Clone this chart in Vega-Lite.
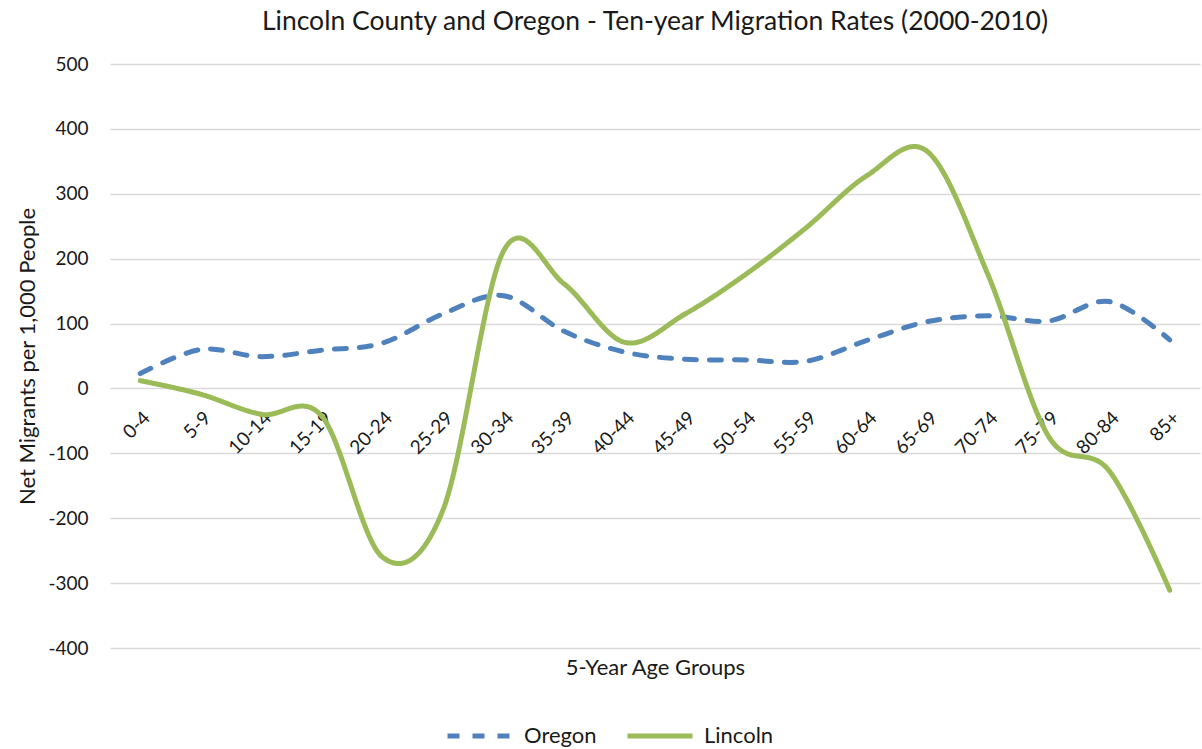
{
  "$schema": "https://vega.github.io/schema/vega-lite/v6.json",
  "autosize": {"type": "none"},
  "width": 1090,
  "height": 584,
  "padding": {"left": 110, "top": 64, "right": 2, "bottom": 101},
  "background": "white",
  "title": {
    "text": "Lincoln County and Oregon - Ten-year Migration Rates (2000-2010)",
    "frame": "group",
    "anchor": "middle",
    "font": "Lato",
    "fontSize": 26.5,
    "fontWeight": "normal",
    "color": "#1a1a1a",
    "offset": 20
  },
  "data": {
    "values": [
      {"age": "0-4", "series": "Oregon", "rate": 23},
      {"age": "5-9", "series": "Oregon", "rate": 60},
      {"age": "10-14", "series": "Oregon", "rate": 49},
      {"age": "15-19", "series": "Oregon", "rate": 59},
      {"age": "20-24", "series": "Oregon", "rate": 70},
      {"age": "25-29", "series": "Oregon", "rate": 115},
      {"age": "30-34", "series": "Oregon", "rate": 143},
      {"age": "35-39", "series": "Oregon", "rate": 88},
      {"age": "40-44", "series": "Oregon", "rate": 56},
      {"age": "45-49", "series": "Oregon", "rate": 45},
      {"age": "50-54", "series": "Oregon", "rate": 44},
      {"age": "55-59", "series": "Oregon", "rate": 42},
      {"age": "60-64", "series": "Oregon", "rate": 74},
      {"age": "65-69", "series": "Oregon", "rate": 103},
      {"age": "70-74", "series": "Oregon", "rate": 112},
      {"age": "75-79", "series": "Oregon", "rate": 104},
      {"age": "80-84", "series": "Oregon", "rate": 134},
      {"age": "85+", "series": "Oregon", "rate": 75},
      {"age": "0-4", "series": "Lincoln", "rate": 12},
      {"age": "5-9", "series": "Lincoln", "rate": -9},
      {"age": "10-14", "series": "Lincoln", "rate": -40},
      {"age": "15-19", "series": "Lincoln", "rate": -43},
      {"age": "20-24", "series": "Lincoln", "rate": -260},
      {"age": "25-29", "series": "Lincoln", "rate": -187},
      {"age": "30-34", "series": "Lincoln", "rate": 212},
      {"age": "35-39", "series": "Lincoln", "rate": 161},
      {"age": "40-44", "series": "Lincoln", "rate": 71},
      {"age": "45-49", "series": "Lincoln", "rate": 115},
      {"age": "50-54", "series": "Lincoln", "rate": 176},
      {"age": "55-59", "series": "Lincoln", "rate": 248},
      {"age": "60-64", "series": "Lincoln", "rate": 328},
      {"age": "65-69", "series": "Lincoln", "rate": 365},
      {"age": "70-74", "series": "Lincoln", "rate": 175},
      {"age": "75-79", "series": "Lincoln", "rate": -74},
      {"age": "80-84", "series": "Lincoln", "rate": -127},
      {"age": "85+", "series": "Lincoln", "rate": -311}
    ]
  },
  "mark": {"type": "line", "interpolate": "cardinal", "strokeWidth": 5, "strokeCap": "round"},
  "encoding": {
    "x": {
      "field": "age",
      "type": "ordinal",
      "sort": null,
      "scale": {"type": "point", "padding": 0.5},
      "axis": {
        "title": "5-Year Age Groups",
        "titleY": 279,
        "titleBaseline": "middle",
        "titleFont": "Lato",
        "titleFontSize": 22,
        "titleFontWeight": "normal",
        "titleColor": "#1a1a1a",
        "offset": -260,
        "labelAngle": -45,
        "labelAlign": "right",
        "labelBaseline": "top",
        "labelPadding": 20,
        "labelFont": "Lato",
        "labelFontSize": 19,
        "labelColor": "#1a1a1a",
        "domain": false,
        "ticks": false,
        "grid": false
      }
    },
    "y": {
      "field": "rate",
      "type": "quantitative",
      "scale": {"domain": [-400, 500], "nice": false, "zero": false},
      "axis": {
        "title": "Net Migrants per 1,000 People",
        "values": [-400, -300, -200, -100, 0, 100, 200, 300, 400, 500],
        "labelExpr": "replace(datum.label, '\u2212', '-')",
        "titleX": -83,
        "titleY": 292,
        "titleAngle": -90,
        "titleAlign": "center",
        "titleBaseline": "middle",
        "titleFont": "Lato",
        "titleFontSize": 22,
        "titleFontWeight": "normal",
        "titleColor": "#1a1a1a",
        "labelFont": "Lato",
        "labelFontSize": 19,
        "labelColor": "#1a1a1a",
        "labelPadding": 22,
        "domain": false,
        "ticks": false,
        "gridColor": "#d9d9d9",
        "gridWidth": 1.5
      }
    },
    "color": {
      "field": "series",
      "type": "nominal",
      "scale": {"domain": ["Oregon", "Lincoln"], "range": ["#4F81BD", "#9BBB59"]},
      "legend": {
        "title": null,
        "orient": "none",
        "legendX": 335,
        "legendY": 637,
        "direction": "horizontal",
        "symbolType": "stroke",
        "symbolSize": 4225,
        "symbolStrokeWidth": 5,
        "labelFont": "Lato",
        "labelFontSize": 22,
        "labelColor": "#1a1a1a",
        "labelOffset": 9,
        "columnPadding": 20
      }
    },
    "strokeDash": {
      "field": "series",
      "type": "nominal",
      "scale": {"domain": ["Oregon", "Lincoln"], "range": [[12, 13], [1, 0]]},
      "legend": {
        "title": null,
        "orient": "none",
        "legendX": 335,
        "legendY": 637,
        "direction": "horizontal",
        "symbolType": "stroke",
        "symbolSize": 4225,
        "symbolStrokeWidth": 5,
        "labelFont": "Lato",
        "labelFontSize": 22,
        "labelColor": "#1a1a1a",
        "labelOffset": 9,
        "columnPadding": 20
      }
    }
  },
  "config": {"view": {"stroke": null}}
}
